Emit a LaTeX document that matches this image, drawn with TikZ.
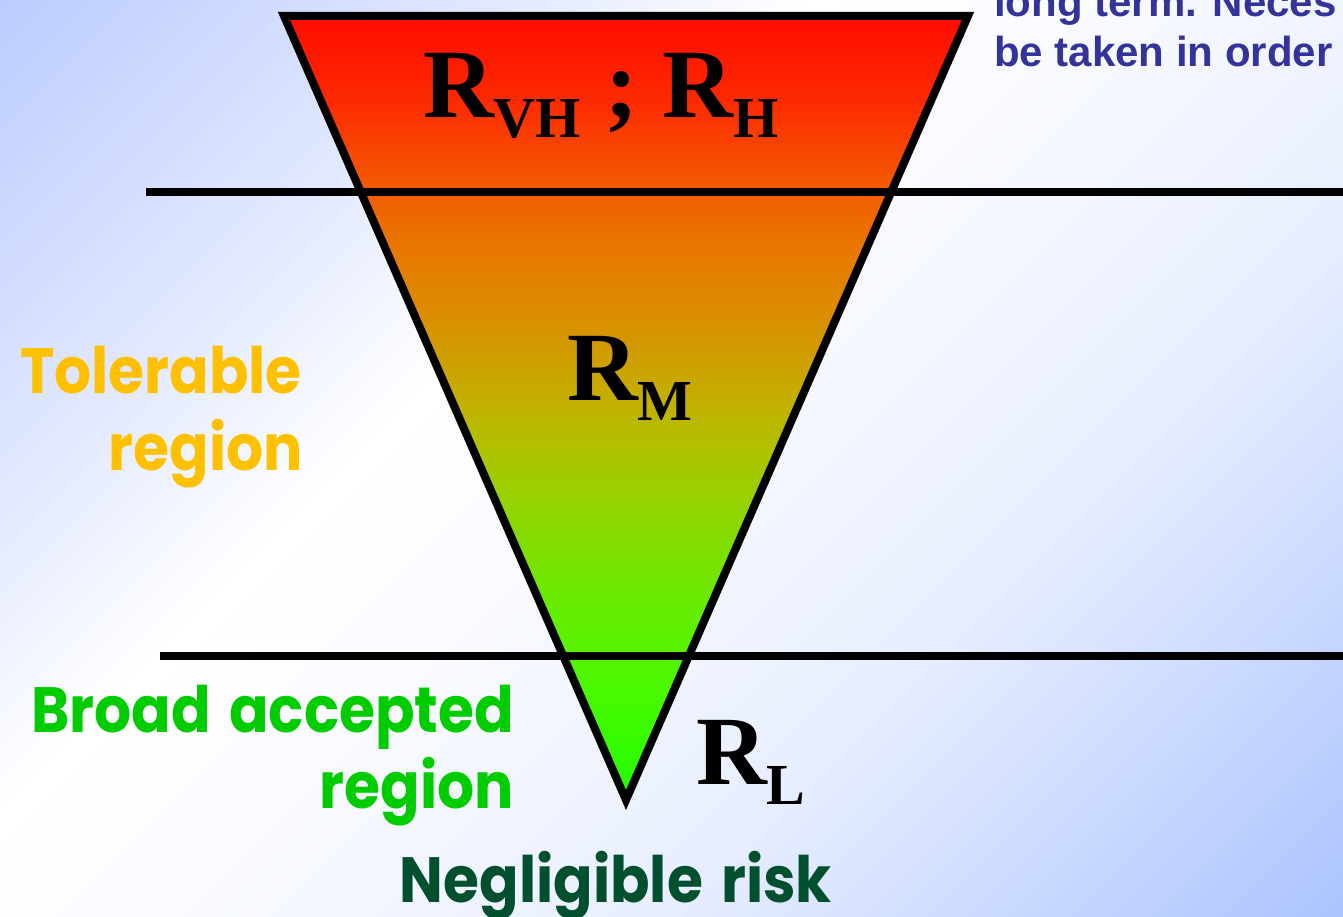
\documentclass[tikz,border=0pt]{standalone}
\usepackage{fontspec}
\setmainfont{Liberation Serif}
\newfontfamily\labelfont[FakeStretch=0.91,WordSpace=1.5]{Poppins}
\newfontfamily\bluefont{Liberation Sans}
\definecolor{bgA}{RGB}{188,204,255}
\definecolor{bgB}{RGB}{225,232,255}
\definecolor{bgC}{RGB}{255,255,255}
\definecolor{bgD}{RGB}{248,250,255}
\definecolor{bgE}{RGB}{232,238,255}
\definecolor{bgF}{RGB}{172,196,255}
\definecolor{tA}{RGB}{32,255,0}
\definecolor{tB}{RGB}{70,250,0}
\definecolor{tC}{RGB}{88,242,0}
\definecolor{tD}{RGB}{105,235,0}
\definecolor{tE}{RGB}{140,215,0}
\definecolor{tF}{RGB}{175,195,0}
\definecolor{tG}{RGB}{195,175,0}
\definecolor{tH}{RGB}{208,155,0}
\definecolor{tI}{RGB}{220,140,0}
\definecolor{tJ}{RGB}{232,120,0}
\definecolor{tK}{RGB}{242,95,0}
\definecolor{tL}{RGB}{248,70,0}
\definecolor{tM}{RGB}{252,42,0}
\definecolor{tN}{RGB}{255,12,0}
\definecolor{tolcol}{RGB}{255,192,0}
\definecolor{broadcol}{RGB}{0,204,0}
\definecolor{negcol}{RGB}{0,80,48}
\definecolor{bluetext}{RGB}{51,51,153}
\pgfdeclarehorizontalshading{bgshade}{100bp}{color(0bp)=(bgA); color(14.6bp)=(bgA); color(30bp)=(bgB); color(40bp)=(bgC); color(50bp)=(bgD); color(64bp)=(bgE); color(85.4bp)=(bgF); color(100bp)=(bgF)}
\pgfdeclareverticalshading{trishade}{100bp}{color(0bp)=(tA); color(25bp)=(tA); color(31.4bp)=(tB); color(34.6bp)=(tC); color(37.8bp)=(tD); color(42.9bp)=(tE); color(47.3bp)=(tF); color(50.5bp)=(tG); color(53.7bp)=(tH); color(56.2bp)=(tI); color(60.1bp)=(tJ); color(63.5bp)=(tK); color(66.5bp)=(tL); color(69.6bp)=(tM); color(75bp)=(tN); color(100bp)=(tN)}
\newcommand{\bigR}{\fontsize{98}{98}\selectfont\bfseries}
\newcommand{\subR}[1]{\raisebox{-20pt}{\fontsize{58}{58}\selectfont\bfseries #1}}
\begin{document}
\begin{tikzpicture}[x=1pt,y=-1pt,
  thickline/.style={line width=8pt},
  rlabel/.style={anchor=base west,inner sep=0pt,font=\bigR},
  region/.style={anchor=base east,inner sep=0pt,font=\labelfont\bfseries\fontsize{64}{64}\selectfont},
  bluelabel/.style={anchor=base west,inner sep=0pt,text=bluetext,font=\bluefont\bfseries\fontsize{42}{42}\selectfont}]
\useasboundingbox (0,0) rectangle (1343,917);
\shade[shading=bgshade,shading angle=-45] (0,0) rectangle (1343,917);
\coordinate (tl) at (284,16);
\coordinate (tr) at (968,16);
\coordinate (ap) at (626,800);
\shade[shading=trishade] (tl) -- (tr) -- (ap) -- cycle;
\draw[thickline,line join=miter] (tl) -- (tr) -- (ap) -- cycle;
\coordinate (h1a) at (146,192);
\coordinate (h1b) at (1343,192);
\coordinate (h2a) at (160,656);
\coordinate (h2b) at (1343,656);
\draw[thickline] (h1a) -- (h1b);
\draw[thickline] (h2a) -- (h2b);
\node[rlabel] (rvh) at (423,118) {R\subR{VH} ; R\subR{H}};
\node[rlabel] (rm) at (567,400) {R\subR{M}};
\node[rlabel] (rl) at (696,784) {R\subR{L}};
\node[region,text=tolcol] (tol1) at (302,393) {Tolerable};
\node[region,text=tolcol] (tol2) at (303,470) {region};
\node[region,text=broadcol] (br1) at (514,732) {Broad accepted};
\node[region,text=broadcol] (br2) at (514,808) {region};
\node[region,anchor=base,text=negcol] (neg) at (616,902) {Negligible risk};
\node[bluelabel] (bl1) at (994,17) {long term. Neces};
\node[bluelabel] (bl2) at (994,67) {be taken in order};
\end{tikzpicture}
\end{document}
